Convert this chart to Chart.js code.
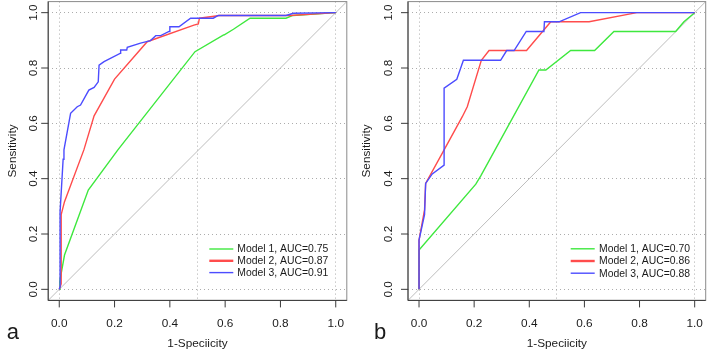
<!DOCTYPE html>
<html>
<head>
<meta charset="utf-8">
<script src="https://cdn.jsdelivr.net/npm/chart.js@4.4.0/dist/chart.umd.min.js"></script>
<style>
  html, body { margin: 0; padding: 0; background: #fff; }
  #wrap { position: relative; width: 708px; height: 352px; }
  #panelA, #panelB { position: absolute; top: 0; }
  #panelA { left: 0; }
  #panelB { left: 354px; }
</style>
</head>
<body>
<div id="wrap">
  <canvas id="panelA" width="354" height="352"></canvas>
  <canvas id="panelB" width="354" height="352"></canvas>
</div>
<script>
// --- data (x = 1-Specificity, y = Sensitivity) ---

// panel a
const aModel1X = [0, 0.002, 0.019, 0.105, 0.212, 0.491, 0.593, 0.597, 0.63, 0.69, 0.82, 0.845, 1];
const aModel1Y = [0, 0.03, 0.124, 0.359, 0.504, 0.859, 0.919, 0.92, 0.94, 0.98, 0.98, 0.99, 1];
const aModel2X = [0, 0.007, 0.007, 0.019, 0.089, 0.126, 0.20, 0.318, 0.487, 0.503, 0.507, 0.58, 0.835, 1];
const aModel2Y = [0, 0.02, 0.27, 0.317, 0.504, 0.627, 0.76, 0.895, 0.955, 0.959, 0.98, 0.99, 0.99, 1];
const aModel3X = [0, 0.003, 0.003, 0.014, 0.017, 0.041, 0.065, 0.077, 0.107, 0.126, 0.141, 0.144, 0.162, 0.22, 0.222, 0.244, 0.246, 0.294, 0.33, 0.349, 0.367, 0.397, 0.40, 0.433, 0.475, 0.557, 0.575, 0.82, 0.847, 1];
const aModel3Y = [0, 0.01, 0.28, 0.47, 0.504, 0.636, 0.66, 0.666, 0.72, 0.73, 0.75, 0.81, 0.823, 0.853, 0.865, 0.865, 0.875, 0.89, 0.899, 0.917, 0.917, 0.932, 0.949, 0.949, 0.98, 0.98, 0.99, 0.99, 0.998, 1];
const aLegend = ['Model 1, AUC=0.75', 'Model 2, AUC=0.87', 'Model 3, AUC=0.91'];

// panel b
const bModel1X = [0, 0, 0.206, 0.224, 0.435, 0.46, 0.55, 0.637, 0.707, 0.931, 0.961, 1];
const bModel1Y = [0, 0.142, 0.38, 0.41, 0.793, 0.793, 0.863, 0.863, 0.932, 0.932, 0.967, 1];
const bModel2X = [0, 0, 0.02, 0.024, 0.091, 0.157, 0.175, 0.226, 0.254, 0.39, 0.478, 0.617, 0.79, 1];
const bModel2Y = [0, 0.178, 0.287, 0.383, 0.504, 0.624, 0.66, 0.828, 0.863, 0.863, 0.967, 0.967, 1, 1];
const bModel3X = [0, 0, 0.02, 0.024, 0.048, 0.091, 0.091, 0.137, 0.161, 0.296, 0.318, 0.345, 0.389, 0.453, 0.455, 0.508, 0.586, 1];
const bModel3Y = [0, 0.178, 0.27, 0.383, 0.417, 0.449, 0.727, 0.759, 0.828, 0.828, 0.863, 0.863, 0.932, 0.932, 0.967, 0.967, 1, 1];
const bLegend = ['Model 1, AUC=0.70', 'Model 2, AUC=0.86', 'Model 3, AUC=0.88'];

// reference line and axes
const diagX = [-0.04, 1.04];
const diagY = [-0.04, 1.04];
const tickValues = [0, 0.2, 0.4, 0.6, 0.8, 1.0];
const tickLabels = ['0.0', '0.2', '0.4', '0.6', '0.8', '1.0'];
const xGridValues = [0, 0.5, 1];
const xTitle = '1-Speciicity';
const yTitle = 'Sensitivity';

// --- styles ---
const FONT = '"Liberation Sans", Arial, Helvetica, sans-serif';
const COLORS = ['#3ee83e', '#ff4c4c', '#4c4cff'];
const LEGEND_WIDTHS = [1.4, 2.4, 1.4];
const GRID = '#acacac';
const TEXT = '#1a1a1a';

function pts(xs, ys) {
    return xs.map((x, i) => ({ x: x, y: ys[i] }));
}

// draws the R-style frame: box, ticks, labels, titles, letter, legend
const rFrame = {
    id: 'rFrame',
    afterDraw(chart, args, p) {
        const ctx = chart.ctx;
        const area = chart.chartArea;
        const xs = chart.scales.x;
        const ys = chart.scales.y;
        ctx.save();

        // box
        ctx.strokeStyle = '#8a8a8a';
        ctx.lineWidth = 1;
        ctx.strokeRect(area.left, area.top, area.right - area.left, area.bottom - area.top);
        ctx.strokeStyle = '#3a3a3a';
        ctx.beginPath();
        ctx.moveTo(area.left, area.top);
        ctx.lineTo(area.left, area.bottom);
        ctx.lineTo(area.right, area.bottom);
        ctx.stroke();

        // tick marks
        ctx.beginPath();
        tickValues.forEach(v => {
            const px = xs.getPixelForValue(v);
            ctx.moveTo(px, area.bottom);
            ctx.lineTo(px, area.bottom + 7);
            const py = ys.getPixelForValue(v);
            ctx.moveTo(area.left - 7, py);
            ctx.lineTo(area.left, py);
        });
        ctx.stroke();

        // tick labels
        ctx.fillStyle = TEXT;
        ctx.font = '11.8px ' + FONT;
        ctx.textAlign = 'center';
        ctx.textBaseline = 'alphabetic';
        tickValues.forEach((v, i) => {
            ctx.fillText(tickLabels[i], xs.getPixelForValue(v), p.xLabelBase);
            ctx.save();
            ctx.translate(p.yLabelBase, ys.getPixelForValue(v));
            ctx.rotate(-Math.PI / 2);
            ctx.fillText(tickLabels[i], 0, 0);
            ctx.restore();
        });

        // axis titles
        ctx.fillText(xTitle, (area.left + area.right) / 2, p.xTitleBase);
        ctx.save();
        ctx.translate(p.yTitleBase, (area.top + area.bottom) / 2);
        ctx.rotate(-Math.PI / 2);
        ctx.fillText(yTitle, 0, 0);
        ctx.restore();

        // panel letter
        ctx.textAlign = 'left';
        ctx.font = '22px ' + FONT;
        ctx.fillText(p.letter, p.letterX, p.letterBase);

        // legend
        ctx.font = '10.4px ' + FONT;
        ctx.textBaseline = 'middle';
        p.legend.forEach((label, i) => {
            const y = p.legTop + i * p.legGap;
            ctx.strokeStyle = COLORS[i];
            ctx.lineWidth = LEGEND_WIDTHS[i];
            ctx.beginPath();
            ctx.moveTo(p.legLine0, y);
            ctx.lineTo(p.legLine1, y);
            ctx.stroke();
            ctx.fillText(label, p.legText, y + 0.5);
        });

        ctx.restore();
    }
};

function buildPanel(canvasId, series, p) {
    const datasets = [{
        data: pts(diagX, diagY),
        borderColor: '#bdbdbd',
        borderWidth: 1,
        order: 3
    }];
    series.forEach((s, i) => {
        datasets.push({
            data: pts(s[0], s[1]),
            borderColor: COLORS[i],
            borderWidth: 1.4,
            order: 2 - i
        });
    });
    datasets.forEach(d => {
        d.showLine = true;
        d.pointRadius = 0;
        d.pointHoverRadius = 0;
        d.tension = 0;
    });

    return new Chart(document.getElementById(canvasId).getContext('2d'), {
        type: 'scatter',
        data: { datasets: datasets },
        options: {
            responsive: false,
            animation: false,
            events: [],
            layout: { padding: { top: p.padTop, right: p.padRight, left: 0, bottom: 0 } },
            plugins: {
                legend: { display: false },
                tooltip: { enabled: false },
                rFrame: p
            },
            scales: {
                x: {
                    type: 'linear', min: -0.04, max: 1.04,
                    ticks: { display: false },
                    grid: { display: false },
                    border: { display: false },
                    afterFit: s => { s.height = p.axisH; }
                },
                xg: {
                    type: 'linear', position: 'bottom', min: -0.04, max: 1.04,
                    afterBuildTicks: s => { s.ticks = xGridValues.map(v => ({ value: v })); },
                    ticks: { display: false },
                    grid: { color: GRID, lineWidth: 1, drawTicks: false },
                    border: { display: false, dash: [1, 3] },
                    afterFit: s => { s.height = 0; }
                },
                y: {
                    type: 'linear', min: -0.04, max: 1.04,
                    afterBuildTicks: s => { s.ticks = tickValues.map(v => ({ value: v })); },
                    ticks: { display: false },
                    grid: { color: GRID, lineWidth: 1, drawTicks: false },
                    border: { display: false, dash: [1, 3] },
                    afterFit: s => { s.width = p.axisW; }
                }
            }
        },
        plugins: [rFrame]
    });
}

buildPanel('panelA', [[aModel1X, aModel1Y], [aModel2X, aModel2Y], [aModel3X, aModel3Y]], {
    axisW: 48.2, axisH: 51.6, padTop: 1.6, padRight: 7.2,
    xLabelBase: 326.5, xTitleBase: 346.5, yLabelBase: 36.5, yTitleBase: 16,
    letter: 'a', letterX: 6.7, letterBase: 339.3,
    legend: aLegend, legTop: 249, legGap: 11.8, legLine0: 209.3, legLine1: 233.3, legText: 237.3
});

buildPanel('panelB', [[bModel1X, bModel1Y], [bModel2X, bModel2Y], [bModel3X, bModel3Y]], {
    axisW: 54, axisH: 51.6, padTop: 1.6, padRight: 2.3,
    xLabelBase: 326.5, xTitleBase: 346.5, yLabelBase: 37.5, yTitleBase: 15.5,
    letter: 'b', letterX: 20, letterBase: 339.3,
    legend: bLegend, legTop: 248.8, legGap: 12.2, legLine0: 216.7, legLine1: 240.7, legText: 245
});
</script>
</body>
</html>
